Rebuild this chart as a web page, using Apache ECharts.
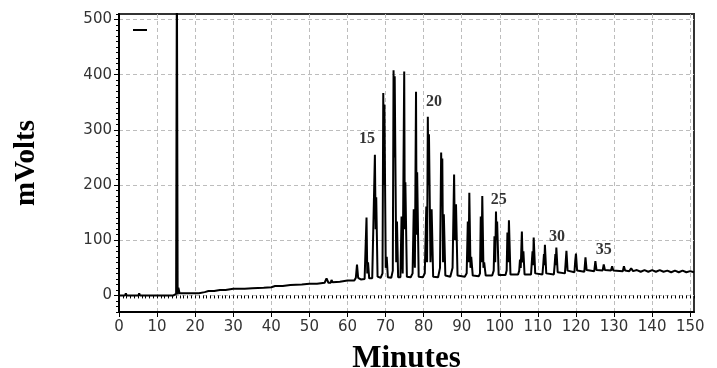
<!DOCTYPE html>
<html><head><meta charset="utf-8">
<script src="https://cdn.jsdelivr.net/npm/echarts@6/dist/echarts.min.js"></script>
<style>html,body{margin:0;padding:0;background:#fff}#c{width:717px;height:368px}</style>
</head><body><div id="c"></div>
<script>
// Tick labels
const xTickLabels = [0,10,20,30,40,50,60,70,80,90,100,110,120,130,140,150];
const yTickLabels = [0,100,200,300,400,500];

// Chromatogram trace (minutes, mVolts)
const traceTimes = [
  0,1.6,1.8,2.0,5.1,5.3,5.5,14.3,14.7,15.0,15.2,15.4,15.6,15.9,18,21,22.5,23.5,25,26.5,28,30,33,35,38,40,41,43,45,48,50,52,54,54.5,55,55.6,55.8,56.1,58,60,61.8,
  62.2,62.5,62.8,63.5,64.5,
  64.8,65.0,65.2,65.4,65.7,66.5,
  66.9,67.2,67.4,67.55,67.9,68.7,
  69.2,69.4,69.55,69.7,70.05,70.3,70.6,71.5,
  71.9,72.1,72.25,72.4,72.8,73.0,73.3,73.9,
  74.2,74.5,74.9,75.05,75.2,75.6,76.6,
  77.1,77.4,77.7,78.0,78.15,78.3,78.7,79.8,
  80.3,80.7,80.9,81.1,81.25,81.4,81.8,82.1,82.5,83.8,
  84.3,84.6,84.75,84.9,85.1,85.3,85.7,87.0,
  87.6,88.0,88.2,88.5,88.9,90.8,
  91.3,91.6,91.8,92.0,92.3,92.5,92.9,94.5,
  94.8,95.0,95.2,95.4,95.7,95.9,96.3,98.0,
  98.4,98.6,98.8,99.0,99.15,99.3,99.7,101.5,
  101.8,102.0,102.2,102.4,102.8,104.8,
  105.1,105.3,105.5,105.8,106.0,106.2,106.5,108.2,
  108.4,108.6,108.75,108.9,109.3,111.2,
  111.4,111.6,111.7,111.85,112.2,114.2,
  114.4,114.6,114.7,114.85,115.2,117.1,
  117.3,117.5,117.8,119.6,
  119.8,120.0,120.3,122.2,
  122.5,122.8,124.8,
  125.1,125.4,127.0,
  127.3,127.6,129.2,
  129.5,129.8,132.3,
  132.6,132.9,134,134.5,135,136,137,138,139,140,141,142,143,144,145,146,147,148,149,150,151
];
const traceValues = [
  0,0,4,0,0,4,0,0,2,3,600,2,14,4,4,4,6,8,8,10,10,12,12,13,14,15,17,17,19,20,21,21,23,31,23,23,28,24,25,27,27,
  32,56,32,29,30,
  32,141,40,60,31,31,
  34,255,120,178,34,32,
  40,367,200,346,50,70,33,32,
  45,408,250,397,60,134,33,33,
  143,40,406,120,205,34,33,
  40,156,50,369,110,223,34,33,
  40,161,60,324,200,292,60,156,34,33,
  50,259,200,248,60,147,36,34,
  50,219,100,165,36,34,
  40,134,60,186,50,70,36,35,
  40,143,60,180,50,60,36,36,
  45,107,60,152,100,134,37,37,
  45,114,60,136,38,38,
  45,65,50,116,60,80,38,38,
  60,80,55,105,40,38,
  55,75,55,92,40,38,
  55,75,55,87,42,40,
  60,81,45,42,
  62,76,45,43,
  69,46,44,
  62,46,45,
  56,46,45,
  53,45,44,
  53,45,44,49,44,46,43,46,43,46,43,46,43,45,42,45,42,45,42,44,42
];

// Oligomer annotations
const peakLabelTexts = ['15','20','25','30','35'];
const peakLabelTimes = [65.1, 82.7, 99.7, 115.0, 127.3];
const peakLabelValues = [283, 350, 174, 107, 82];

const trace = traceTimes.map((t, i) => [t, traceValues[i]]);
const labelPts = peakLabelTimes.map((t, i) => ({value: [t, peakLabelValues[i]], name: peakLabelTexts[i]}));

const chart = echarts.init(document.getElementById('c'), null, {renderer: 'canvas'});
const tickFont = {fontFamily: 'DejaVu Sans', fontSize: 15, color: '#333'};
chart.setOption({
  animation: false,
  backgroundColor: '#fff',
  grid: {left: 119, right: 23, top: 14, bottom: 56, containLabel: false, outerBoundsMode: 'none',
    show: true, borderColor: '#333', borderWidth: 2, backgroundColor: 'transparent'},
  legend: {
    show: true, left: 128, top: 24, itemWidth: 14, itemHeight: 2, itemGap: 0,
    data: [{name: ' ', icon: 'rect'}], textStyle: {fontSize: 1, color: '#fff'}
  },
  xAxis: [{
    type: 'value', min: 0, max: 151, interval: 10,
    name: 'Minutes', nameLocation: 'middle', nameGap: 31,
    nameTextStyle: {fontFamily: 'Liberation Serif', fontWeight: 'bold', fontSize: 31, color: '#000'},
    axisLine: {show: true, onZero: false, lineStyle: {color: '#000', width: 2}},
    axisTick: {show: true, length: 5, lineStyle: {color: '#000'}, customValues: xTickLabels},
    axisLabel: Object.assign({margin: 8, customValues: xTickLabels}, tickFont),
    splitLine: {show: true, lineStyle: {color: '#bdbdbd', type: [4, 3], width: 1}}
  }, {
    type: 'value', min: 0, max: 151, interval: 1, position: 'bottom',
    axisLine: {show: false}, axisLabel: {show: false}, splitLine: {show: false},
    axisTick: {show: true, length: 3, lineStyle: {color: '#000'}}
  }],
  yAxis: [{
    type: 'value', min: -30, max: 510, interval: 10,
    name: 'mVolts', nameLocation: 'middle', nameGap: 78, nameRotate: 90,
    nameTextStyle: {fontFamily: 'Liberation Serif', fontWeight: 'bold', fontSize: 29, color: '#000'},
    axisLine: {show: true, onZero: false, lineStyle: {color: '#000', width: 2}},
    axisTick: {show: true, length: 5, lineStyle: {color: '#000'}, customValues: yTickLabels},
    axisLabel: Object.assign({margin: 7, customValues: yTickLabels}, tickFont),
    splitLine: {show: true, lineStyle: {color: '#bdbdbd', type: [4, 3], width: 1}}
  }, {
    type: 'value', min: -30, max: 510, interval: 10, position: 'left',
    axisLine: {show: false}, axisLabel: {show: false}, splitLine: {show: false},
    axisTick: {show: true, length: 3, lineStyle: {color: '#000'}}
  }],
  series: [{
    name: ' ', type: 'line', xAxisIndex: 0, yAxisIndex: 0, data: trace,
    symbol: 'none', clip: true, color: '#000',
    lineStyle: {color: '#000', width: 2}
  }, {
    name: 'labels', type: 'scatter', xAxisIndex: 0, yAxisIndex: 0, data: labelPts,
    symbolSize: 0, silent: true,
    label: {show: true, position: 'inside', formatter: p => p.name,
      fontFamily: 'Liberation Serif', fontWeight: 'bold', fontSize: 16, color: '#000'}
  }]
});
</script>
</body></html>
